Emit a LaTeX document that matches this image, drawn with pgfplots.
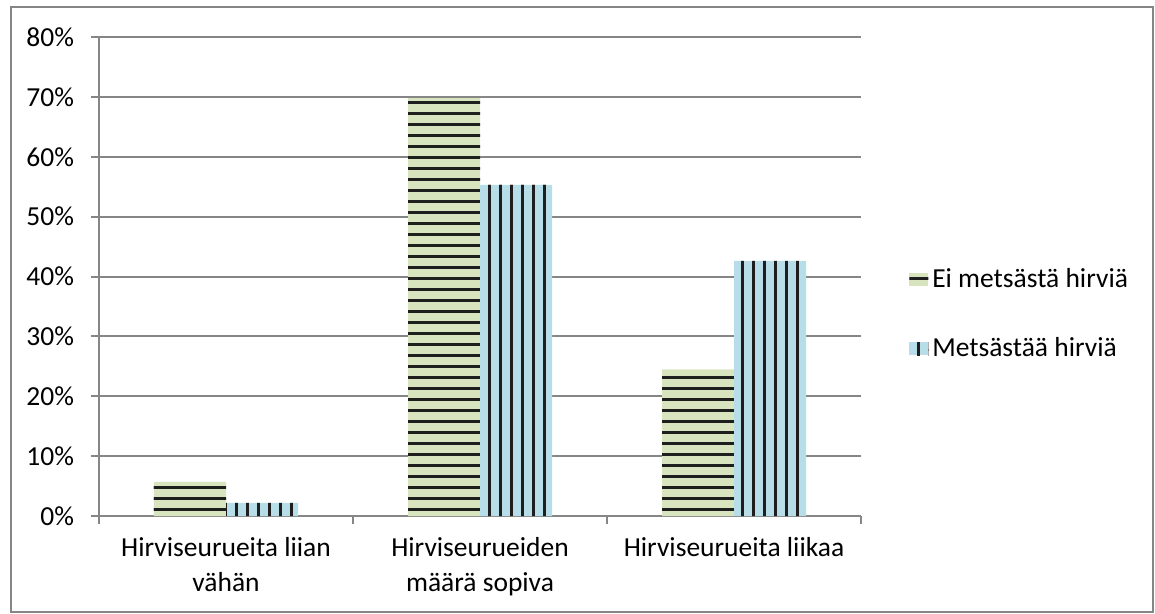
\documentclass[border=0pt]{standalone}
\usepackage{fontspec}
\setmainfont{Carlito}
\usepackage{pgfplots}
\pgfplotsset{compat=1.18}
\usetikzlibrary{patterns}

\definecolor{gridgray}{RGB}{134,134,134}
\definecolor{olivefill}{RGB}{215,228,189}
\definecolor{bluefill}{RGB}{183,222,232}
\definecolor{stripe}{RGB}{30,30,30}

% stripe patterns with overlapping tiles (avoids seams)
\pgfdeclarepatternformonly{hstripes}{\pgfpoint{-0.6bp}{-0.6bp}}{\pgfpoint{6.1bp}{6.1bp}}{\pgfpoint{5.5bp}{5.5bp}}{%
  \pgfsetlinewidth{1.3bp}%
  \pgfpathmoveto{\pgfpoint{-0.6bp}{2.75bp}}\pgfpathlineto{\pgfpoint{6.1bp}{2.75bp}}\pgfusepath{stroke}}
\pgfdeclarepatternformonly{vstripes}{\pgfpoint{-0.6bp}{-0.6bp}}{\pgfpoint{6.1bp}{6.1bp}}{\pgfpoint{5.5bp}{5.5bp}}{%
  \pgfsetlinewidth{1.3bp}%
  \pgfpathmoveto{\pgfpoint{2.75bp}{-0.6bp}}\pgfpathlineto{\pgfpoint{2.75bp}{6.1bp}}\pgfusepath{stroke}}

\begin{document}
\begin{tikzpicture}
% page and chart frame
\path (0,0) rectangle (577.5bp,-307bp);
\draw[gridgray, line width=0.8bp] (5.5bp,-3.5bp) rectangle (576.5bp,-306bp);

\begin{axis}[
  scale only axis,
  width=381bp, height=239.5bp,
  anchor=south west, at={(49.5bp,-258bp)},
  font=\fontsize{13.8}{16.5}\selectfont,
  ybar=0pt, bar width=36bp,
  xmin=-0.5, xmax=2.5,
  ymin=0, ymax=80,
  ytick={0,10,...,80},
  yticklabel={\pgfmathprintnumber{\tick}\%},
  /pgf/number format/assume math mode=true,
  xtick={0,1,2},
  xticklabels={Hirviseurueita liian\\vähän, Hirviseurueiden\\määrä sopiva, Hirviseurueita liikaa},
  xticklabel style={align=center, yshift=-3bp, font=\fontsize{13.8}{17.5}\selectfont},
  major x tick style={draw=none},
  minor xtick={-0.5,0.5,1.5,2.5},
  minor x tick style={gridgray, line width=1bp},
  ytick style={gridgray, line width=1bp},
  tick align=outside, tick pos=left,
  major tick length=4bp, minor tick length=4bp,
  axis x line*=bottom, axis y line*=left,
  axis line style={gridgray, line width=1bp, -},
  ymajorgrids,
  y grid style={gridgray, line width=1bp},
  yticklabel style={xshift=-5bp},
  legend style={at={(1.055,0.421)}, anchor=west, draw=none, fill=none,
    font=\fontsize{13.8}{16.5}\selectfont, row sep=19.5bp,
    legend cell align=left},
  legend image code/.code={\draw[#1, draw=none] (0bp,-3.25bp) rectangle (9.5bp,3.25bp);},
]
\addplot[draw=none, fill=olivefill,
  postaction={pattern=hstripes, pattern color=stripe}]
  coordinates {(0,5.7) (1,69.8) (2,24.5)};
\addplot[draw=none, fill=bluefill,
  postaction={pattern=vstripes, pattern color=stripe}]
  coordinates {(0,2.2) (1,55.3) (2,42.6)};
\legend{Ei metsästä hirviä, Metsästää hirviä}
\end{axis}
\end{tikzpicture}
\end{document}
